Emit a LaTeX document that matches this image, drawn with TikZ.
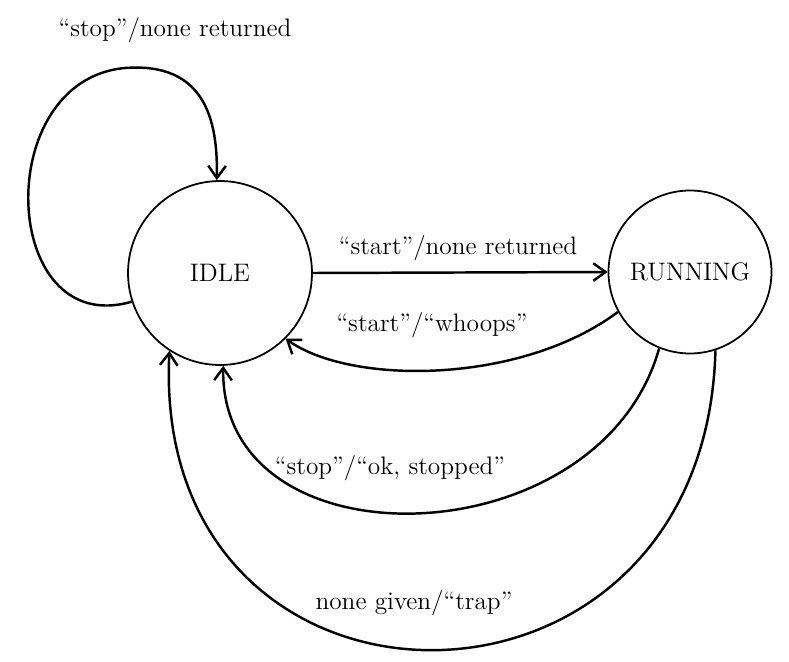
\documentclass[tikz,border=0pt]{standalone}
\usepackage{tikz}
\usetikzlibrary{arrows.meta, positioning}

\begin{document}
\begin{tikzpicture}[x=0.02cm, y=-0.02cm,
    state/.style={draw, circle, line width=1pt, font=\Large},
    trans/.style={line width=1.4pt, -{Straight Barb[length=7pt, width=10pt, line width=1.4pt]}},
    lbl/.style={font=\Large}]
    \useasboundingbox (0, 0) rectangle (789, 662);

    % States
    \node[state, minimum size=3.68cm] (idle) at (220, 273) {IDLE};
    \node[state, minimum size=3.26cm] (running) at (690, 272) {RUNNING};

    % Self loop on idle
    \draw[trans] (idle.198) .. controls (0, 340) and (-10, 80) .. (125, 68)
        .. controls (205, 62) and (218, 120) .. (idle.92);
    \node[lbl] (stopidle) at (175, 30) {``stop''/none returned};

    % idle <-> running
    \draw[trans] (idle.east) -- (running.west);
    \node[lbl] (startrun) at (458, 248) {``start''/none returned};
    \draw[trans] (running.209) .. controls (520, 385) and (350, 385) .. (idle.315);
    \node[lbl] (whoops) at (432, 325) {``start''/``whoops''};

    % Back to idle from below
    \draw[trans] (running.248) .. controls (600, 560) and (220, 570) .. (idle.272);
    \node[lbl] (okstop) at (390, 468) {``stop''/``ok, stopped''};
    \draw[trans] (running.288) .. controls (705, 752) and (150, 747) .. (idle.237);
    \node[lbl] (trap) at (414, 603) {none given/``trap''};
\end{tikzpicture}
\end{document}
